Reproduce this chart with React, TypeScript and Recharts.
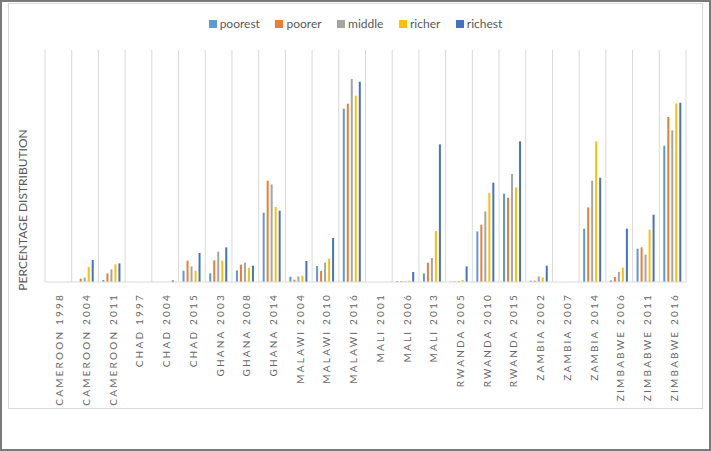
import React from "react";
import {
  BarChart,
  Bar,
  XAxis,
  YAxis,
  CartesianGrid,
  Legend,
} from "recharts";

// survey rounds on the x axis
const categories = [
  "CAMEROON 1998", "CAMEROON 2004", "CAMEROON 2011",
  "CHAD 1997", "CHAD 2004", "CHAD 2015",
  "GHANA 2003", "GHANA 2008", "GHANA 2014",
  "MALAWI 2004", "MALAWI 2010", "MALAWI 2016",
  "MALI 2001", "MALI 2006", "MALI 2013",
  "RWANDA 2005", "RWANDA 2010", "RWANDA 2015",
  "ZAMBIA 2002", "ZAMBIA 2007", "ZAMBIA 2014",
  "ZIMBABWE 2006", "ZIMBABWE 2011", "ZIMBABWE 2016",
];

// wealth quintiles, values
const poorest = [0, 0, 0.34, 0, 0, 1.95, 1.48, 2.0, 11.95, 0.91, 2.76, 29.88, 0, 0.17, 1.48, 0.05, 8.72, 15.22, 0.22, 0, 9.19, 0.28, 5.74, 23.5];
const poorer = [0, 0.57, 1.48, 0, 0, 3.67, 3.72, 2.98, 17.47, 0.4, 1.9, 30.74, 0, 0.17, 3.33, 0.1, 9.88, 14.53, 0.22, 0, 12.86, 0.86, 5.97, 28.45];
const middle = [0, 0.74, 2.17, 0, 0, 2.69, 5.22, 3.33, 16.83, 0.97, 3.33, 35.0, 0, 0.1, 4.14, 0.17, 12.17, 18.62, 0.97, 0, 17.47, 1.72, 4.71, 26.14];
const richer = [0, 2.59, 3.03, 0, 0, 1.95, 3.67, 2.47, 12.93, 1.09, 4.02, 32.12, 0, 0.22, 8.79, 0.34, 15.34, 16.31, 0.79, 0, 24.24, 2.47, 9.02, 30.79];
const richest = [0, 3.79, 3.21, 0, 0.28, 5.0, 5.97, 2.81, 12.29, 3.62, 7.59, 34.53, 0, 1.72, 23.72, 2.69, 17.12, 24.24, 2.81, 0, 17.98, 9.19, 11.6, 30.91];

const series = [
  { key: "poorest", color: "#5B9BD5" },
  { key: "poorer", color: "#ED7D31" },
  { key: "middle", color: "#A5A5A5" },
  { key: "richer", color: "#FFC000" },
  { key: "richest", color: "#4472C4" },
];

const data = categories.map((name, i) => ({
  name,
  poorest: poorest[i],
  poorer: poorer[i],
  middle: middle[i],
  richer: richer[i],
  richest: richest[i],
}));

const FONT = "Lato, 'Open Sans', sans-serif";
const TEXT = "#595959";

const CategoryTick = ({ x, y, payload }: any) => (
  <text
    transform={`translate(${x + 5},${y + 3}) rotate(-90)`}
    textAnchor="end"
    fill="#666666"
    fontSize={10}
    fontFamily={FONT}
    letterSpacing={2.2}
  >
    {payload.value}
  </text>
);

const LegendContent = () => (
  <div
    style={{
      height: 36,
      display: "flex",
      justifyContent: "center",
      fontFamily: FONT,
      fontSize: 12,
      color: TEXT,
      lineHeight: "20px",
    }}
  >
    {series.map((s, i) => (
      <div
        key={s.key}
        style={{
          display: "flex",
          alignItems: "center",
          height: 20,
          marginRight: i < series.length - 1 ? 15.5 : 0,
        }}
      >
        <span
          style={{ width: 8, height: 8, background: s.color, marginRight: 3, display: "inline-block" }}
        />
        <span>{s.key}</span>
      </div>
    ))}
  </div>
);

const YTitle = ({ viewBox }: any) => (
  <text
    transform={`translate(${viewBox.x + 19},210) rotate(-90)`}
    textAnchor="middle"
    fill={TEXT}
    fontSize={12}
    fontFamily={FONT}
  >
    PERCENTAGE DISTRIBUTION
  </text>
);

export default function App() {
  return (
    <div style={{ position: "absolute", left: 0, top: 0, width: 711, height: 451 }}>
      <div
        style={{
          position: "absolute",
          left: 0,
          top: 0,
          width: 711,
          height: 451,
          boxSizing: "border-box",
          border: "2px solid #7a7a7a",
        }}
      />
      <div
        style={{
          position: "absolute",
          left: 8,
          top: 3,
          width: 695,
          height: 406,
          boxSizing: "border-box",
          border: "1px solid #D9D9D9",
        }}
      />
      <div style={{ position: "absolute", left: 0, top: 0 }}>
        <BarChart
          width={711}
          height={451}
          data={data}
          margin={{ top: 14, right: 25, bottom: 39, left: 8 }}
          barSize={2}
          barGap={2}
        >
          <CartesianGrid
            horizontal={false}
            stroke="#D9D9D9"
            verticalCoordinatesGenerator={({ offset }: any) =>
              Array.from({ length: categories.length + 1 }, (_, i) =>
                offset.left + (i * offset.width) / categories.length
              )
            }
          />
          <XAxis
            dataKey="name"
            interval={0}
            height={130}
            tickLine={false}
            axisLine={{ stroke: "#D9D9D9" }}
            tick={<CategoryTick />}
          />
          <YAxis
            width={37}
            domain={[0, 40]}
            tick={false}
            tickLine={false}
            axisLine={false}
            label={{ content: <YTitle /> }}
          />
          <Legend
            verticalAlign="top"
            wrapperStyle={{ left: 0, width: 711, top: 14 }}
            content={<LegendContent />}
          />
          {series.map((s) => (
            <Bar key={s.key} dataKey={s.key} fill={s.color} isAnimationActive={false} />
          ))}
        </BarChart>
      </div>
    </div>
  );
}
